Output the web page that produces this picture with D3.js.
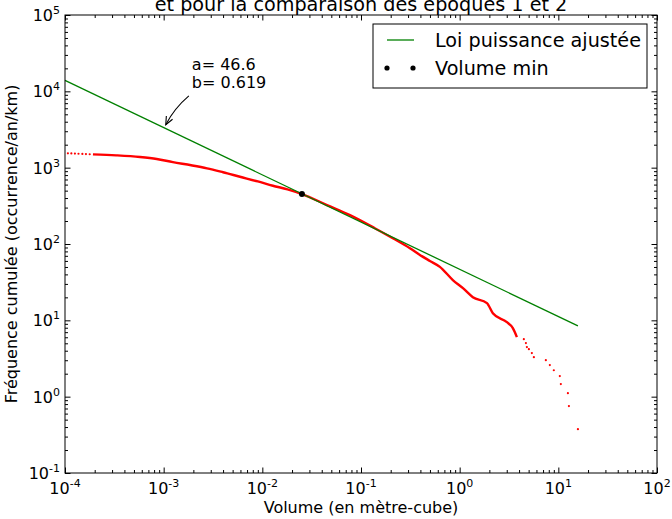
<!DOCTYPE html>
<html>
<head>
<meta charset="utf-8">
<script src="https://cdn.jsdelivr.net/npm/d3@7"></script>
<style>
body {margin:0; background:#fff}
svg {display:block; font-family:"DejaVu Sans", sans-serif}
</style>
</head>
<body>
<script>
// valeurs
var volumesTete = [1.07e-4, 1.16e-4, 1.26e-4, 1.37e-4, 1.5e-4, 1.63e-4, 1.78e-4]
var freqTete = [1540, 1535, 1530, 1522, 1515, 1508, 1500]

var volumesCourbe = [1.92e-4, 3.3e-4, 5.75e-4, 8.5e-4, 1.24e-3, 1.9e-3, 2.75e-3, 4e-3, 5.93e-3, 9e-3, 0.0128, 0.018, 0.0252, 0.0452, 0.0773, 0.138, 0.210, 0.313, 0.395, 0.499, 0.630, 0.853, 1.08, 1.36, 1.89, 2.17, 3.01, 3.46, 3.80]
var freqCourbe = [1494, 1450, 1380, 1300, 1180, 1075, 980, 870, 760, 660, 580, 520, 451, 324, 239, 161, 119, 88, 72, 60, 50.2, 33.7, 26.4, 20.1, 16.8, 12.4, 9.46, 7.9, 6.03]

var volumesQueue = [4.47, 4.69, 4.80, 5.03, 5.39, 5.65, 7.47, 8.20, 9.00, 10.35, 10.6, 12.5, 12.8, 15.8]
var freqQueue = [5.67, 5.03, 4.46, 4.19, 3.72, 3.29, 3.01, 2.59, 2.22, 1.86, 1.46, 1.11, 0.752, 0.375]

// loi puissance ajustee (extremites du trait)
var volumesLoi = [1e-4, 15.8]
var freqLoi = [13900, 8.45]
var loiA = "46.6", loiB = "0.619"

var volumeMin = [0.0252, 451]

var exposantsX = [-4, -3, -2, -1, 0, 1, 2]
var exposantsY = [-1, 0, 1, 2, 3, 4, 5]

var width = 672, height = 519
var margin = {top: 15, bottom: 46, left: 65, right: 15}

var escalaX = d3.scaleLog()
    .domain([1e-4, 1e2])
    .range([margin.left, width - margin.right])
var escalaY = d3.scaleLog()
    .domain([1e-1, 1e5])
    .range([height - margin.bottom, margin.top])

var svg = d3.select("body").append("svg")
    .attr("width", width)
    .attr("height", height)

// graduations mineures
var mineursX = [], mineursY = []
for (var e = -4; e < 2; e++) for (var k = 2; k < 10; k++) mineursX.push(k * Math.pow(10, e))
for (var e = -1; e < 5; e++) for (var k = 2; k < 10; k++) mineursY.push(k * Math.pow(10, e))
var majeursX = exposantsX.map(d => Math.pow(10, d))
var majeursY = exposantsY.map(d => Math.pow(10, d))

var x0 = margin.left, x1 = width - margin.right
var y0 = height - margin.bottom, y1 = margin.top

function axe(gen, tr) {
    var g = svg.append("g").attr("transform", tr).call(gen)
    g.select(".domain").remove()
    g.selectAll("line").attr("stroke", "#000").attr("stroke-width", 1)
    g.selectAll("text").remove()
}
axe(d3.axisBottom(escalaX).tickValues(majeursX).tickSize(-5.5), "translate(0," + y0 + ")")
axe(d3.axisBottom(escalaX).tickValues(mineursX).tickSize(-3), "translate(0," + y0 + ")")
axe(d3.axisTop(escalaX).tickValues(majeursX).tickSize(-5.5), "translate(0," + y1 + ")")
axe(d3.axisTop(escalaX).tickValues(mineursX).tickSize(-3), "translate(0," + y1 + ")")
axe(d3.axisLeft(escalaY).tickValues(majeursY).tickSize(-5.5), "translate(" + x0 + ",0)")
axe(d3.axisLeft(escalaY).tickValues(mineursY).tickSize(-3), "translate(" + x0 + ",0)")
axe(d3.axisRight(escalaY).tickValues(majeursY).tickSize(-5.5), "translate(" + x1 + ",0)")
axe(d3.axisRight(escalaY).tickValues(mineursY).tickSize(-3), "translate(" + x1 + ",0)")

// etiquettes 10^n
function puissance(sel) {
    sel.append("tspan").text("10")
    sel.append("tspan").attr("dy", -7).attr("font-size", 11).text(d => d)
}
svg.append("g").selectAll("text").data(exposantsX).enter()
    .append("text")
    .attr("x", d => escalaX(Math.pow(10, d)))
    .attr("y", y0 + 21)
    .attr("text-anchor", "middle")
    .attr("font-size", 16)
    .attr("fill", "#000")
    .call(puissance)
svg.append("g").selectAll("text").data(exposantsY).enter()
    .append("text")
    .attr("x", x0 - 5)
    .attr("y", d => escalaY(Math.pow(10, d)) + 6)
    .attr("text-anchor", "end")
    .attr("font-size", 16)
    .attr("fill", "#000")
    .call(puissance)

// courbe rouge
svg.append("path")
    .datum(d3.zip(volumesCourbe, freqCourbe))
    .attr("fill", "none")
    .attr("stroke", "#ff0000")
    .attr("stroke-width", 2.4)
    .attr("d", d3.line().curve(d3.curveMonotoneX).x(d => escalaX(d[0])).y(d => escalaY(d[1])))

svg.append("g").selectAll("circle")
    .data(d3.zip(volumesTete, freqTete).concat(d3.zip(volumesQueue, freqQueue)))
    .enter().append("circle")
    .attr("cx", d => escalaX(d[0]))
    .attr("cy", d => escalaY(d[1]))
    .attr("r", 1.1)
    .attr("fill", "#ff0000")

// loi puissance
svg.append("path")
    .datum(d3.zip(volumesLoi, freqLoi))
    .attr("fill", "none")
    .attr("stroke", "#008000")
    .attr("stroke-width", 1.3)
    .attr("d", d3.line().x(d => escalaX(d[0])).y(d => escalaY(d[1])))

svg.append("circle")
    .attr("cx", escalaX(volumeMin[0]))
    .attr("cy", escalaY(volumeMin[1]))
    .attr("r", 3)
    .attr("fill", "#000")

// cadre
svg.append("rect")
    .attr("x", x0).attr("y", y1)
    .attr("width", x1 - x0).attr("height", y0 - y1)
    .attr("fill", "none").attr("stroke", "#000").attr("stroke-width", 1)

// annotation a, b
svg.append("defs").append("marker")
    .attr("id", "fleche")
    .attr("viewBox", "-10 -6 12 12")
    .attr("markerWidth", 12).attr("markerHeight", 12)
    .attr("markerUnits", "userSpaceOnUse")
    .attr("orient", "auto")
    .append("path")
    .attr("d", "M-8,-3.5L0,0L-8,3.5")
    .attr("fill", "none").attr("stroke", "#000").attr("stroke-width", 1.1)

var depart = [escalaX(1.8e-3), escalaY(8700)]
var pointe = [escalaX(1.05e-3), escalaY(3650)]
var ctrl = [(depart[0] + pointe[0]) / 2 - 3, (depart[1] + pointe[1]) / 2 - 2]
svg.append("path")
    .attr("d", "M" + depart + "Q" + ctrl + " " + pointe)
    .attr("fill", "none")
    .attr("stroke", "#000")
    .attr("stroke-width", 1.1)
    .attr("marker-end", "url(#fleche)")

svg.append("text")
    .attr("x", depart[0] + 3).attr("y", depart[1] - 25.5)
    .attr("font-size", 16).text("a= " + loiA)
svg.append("text")
    .attr("x", depart[0] + 3).attr("y", depart[1] - 8)
    .attr("font-size", 16).text("b= " + loiB)

// legende
var leg = svg.append("g")
leg.append("rect")
    .attr("x", 373).attr("y", 24).attr("width", 274).attr("height", 64)
    .attr("fill", "#fff").attr("stroke", "#000").attr("stroke-width", 1)
leg.append("line")
    .attr("x1", 387).attr("x2", 414).attr("y1", 40).attr("y2", 40)
    .attr("stroke", "#008000").attr("stroke-width", 1.3)
leg.append("text").attr("x", 435).attr("y", 47).attr("font-size", 19.2).text("Loi puissance ajustée")
leg.selectAll("circle").data([387, 413]).enter().append("circle")
    .attr("cx", d => d).attr("cy", 68).attr("r", 2.6).attr("fill", "#000")
leg.append("text").attr("x", 435).attr("y", 75).attr("font-size", 19.2).text("Volume min")

// titres
svg.append("text")
    .attr("x", (x0 + x1) / 2).attr("y", 11)
    .attr("text-anchor", "middle")
    .attr("font-size", 19.2)
    .text("et pour la comparaison des époques 1 et 2")
svg.append("text")
    .attr("x", (x0 + x1) / 2).attr("y", 513)
    .attr("text-anchor", "middle")
    .attr("font-size", 16)
    .text("Volume (en mètre-cube)")
svg.append("text")
    .attr("transform", "translate(17," + (y0 + y1) / 2 + ") rotate(-90)")
    .attr("text-anchor", "middle")
    .attr("font-size", 16)
    .text("Fréquence cumulée (occurrence/an/km)")
</script>
</body>
</html>
